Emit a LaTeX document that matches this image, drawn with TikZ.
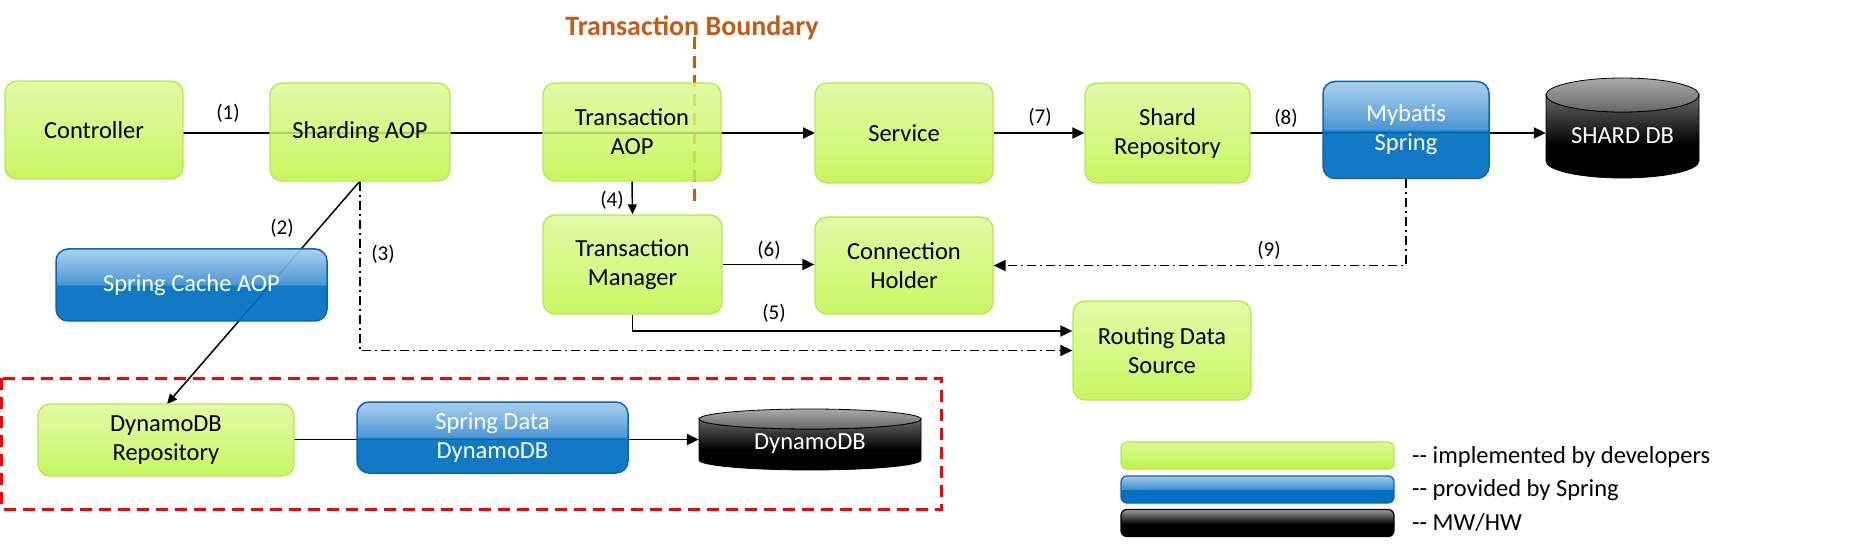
\documentclass[tikz,border=0pt]{standalone}
\usepackage{fontspec}
\setmainfont{Carlito}
\usetikzlibrary{arrows.meta,calc}
\definecolor{gB}{HTML}{BEF544}
\definecolor{gM}{HTML}{CBF76A}
\definecolor{gT}{HTML}{DCFA96}
\definecolor{gborder}{HTML}{B2EA50}
\definecolor{bD}{HTML}{0070C0}
\definecolor{bM}{HTML}{3F8FD2}
\definecolor{bL}{HTML}{A6CDEE}
\definecolor{bborder}{HTML}{0A66B4}
\definecolor{kG}{HTML}{9C9C9C}
\definecolor{kT}{HTML}{AAAAAA}
\definecolor{kM}{HTML}{666666}
\definecolor{orangeTB}{HTML}{C55A11}
\pgfdeclareverticalshading{greenglass}{100bp}{color(0bp)=(gB); color(25bp)=(gB); color(45bp)=(gM); color(75bp)=(gT); color(100bp)=(gT)}
\pgfdeclareverticalshading{blueglass}{100bp}{color(0bp)=(bD); color(25bp)=(bD); color(49.5bp)=(bD); color(50.5bp)=(bM); color(75bp)=(bL); color(100bp)=(bL)}
\pgfdeclareverticalshading{blackglass}{100bp}{color(0bp)=(black); color(25bp)=(black); color(48bp)=(black); color(75bp)=(kG); color(100bp)=(kG)}
\pgfdeclareverticalshading{cylbody}{100bp}{color(0bp)=(black); color(25bp)=(black); color(45bp)=(black); color(75bp)=(kM); color(100bp)=(kM)}
\pgfdeclareverticalshading{cyltop}{100bp}{color(0bp)=(kM); color(25bp)=(kM); color(75bp)=(kT); color(100bp)=(kT)}
\tikzset{
  x=1pt, y=-1pt,
  mainfont/.style={font=\fontsize{24.5}{29}\selectfont},
  gbox/.style={mainfont, rounded corners=12pt, draw=gborder, line width=1.3pt, shade, shading=greenglass, fill opacity=0.85, draw opacity=1, text opacity=1, align=center, inner sep=0pt, text=black},
  bbox/.style={mainfont, rounded corners=12pt, draw=bborder, line width=1.5pt, shade, shading=blueglass, fill opacity=0.93, text opacity=1, align=center, inner sep=0pt, text=white},
  lbox/.style={rounded corners=6pt, line width=1.3pt, inner sep=0pt, minimum width=273pt, minimum height=27pt},
  conn/.style={line width=1.8pt, black},
  arr/.style={-{Triangle[length=12pt,width=11pt]}},
  sarr/.style={-{Triangle[length=10pt,width=9pt]}},
  dashdot/.style={dash pattern=on 9pt off 4pt on 2pt off 4pt},
  lab/.style={font=\fontsize{21}{25}\selectfont, inner sep=0pt},
  legtext/.style={mainfont, anchor=west, inner sep=0pt},
  dbtext/.style={mainfont, text=white, inner sep=0pt},
}
\begin{document}
\begin{tikzpicture}
\useasboundingbox (0,0) rectangle (1856,553);
% ---- invisible anchor nodes for the two databases
\node[minimum width=153pt, minimum height=90pt, inner sep=0pt] (sharddb) at (1622.5,133) {};
\node[minimum width=222pt, minimum height=50pt, inner sep=0pt] (dyndb) at (810,439.5) {};
% ---- transaction boundary line (behind boxes)
\draw[orangeTB, line width=3pt, dash pattern=on 12pt off 7pt] (694,37) -- (694,203);
% ---- connectors that run behind the boxes
\coordinate (ctrlE) at (183,133);
\draw[conn, arr] (ctrlE) -- (815,133) coordinate (svcW);
\draw[conn, arr] (1250,133) coordinate (shrE) -- (sharddb.west);
\draw[conn, arr] (294,439.5) coordinate (dynE) -- (dyndb.west);
\draw[conn, line width=1.5pt, sarr] (360,181) coordinate (shS) -- (167,404) coordinate (dynN);
% ---- boxes
\node[gbox, minimum width=178pt, minimum height=98pt] (ctrl) at (94,130) {Controller};
\node[gbox, minimum width=180pt, minimum height=98pt] (shard) at (360,132) {Sharding AOP};
\node[gbox, minimum width=178pt, minimum height=98pt] (taop) at (632,132) {Transaction\\AOP};
\node[gbox, minimum width=178pt, minimum height=100pt] (svc) at (904,133) {Service};
\node[gbox, minimum width=165pt, minimum height=100pt] (shrepo) at (1167.5,133) {Shard\\Repository};
\node[bbox, minimum width=166pt, minimum height=97pt] (mybatis) at (1406,130) {Mybatis\\Spring};
\node[gbox, minimum width=179pt, minimum height=99pt] (tmgr) at (632.5,264.5) {Transaction\\Manager};
\node[gbox, minimum width=178pt, minimum height=97pt] (ch) at (904,265.5) {Connection\\Holder};
\node[bbox, minimum width=271pt, minimum height=72pt] (scache) at (191.5,285) {Spring Cache AOP};
\node[gbox, minimum width=178pt, minimum height=99pt] (routing) at (1162,350.5) {Routing Data\\Source};
\node[gbox, minimum width=256pt, minimum height=72pt] (dynrepo) at (166,440) {DynamoDB\\Repository};
\node[bbox, minimum width=271pt, minimum height=71pt] (sdd) at (492.5,437.5) {Spring Data\\DynamoDB};
% ---- SHARD DB cylinder
\shade[shading=cylbody, draw=black, line width=0.8pt] (1546,95) -- (1546,161) arc[start angle=180, end angle=0, x radius=76.5, y radius=17] -- (1699,95) arc[start angle=0, end angle=180, x radius=76.5, y radius=17] -- cycle;
\shade[shading=cyltop, draw=black, line width=0.8pt] (1622.5,95) ellipse[x radius=76.5, y radius=17];
\node[dbtext] at (1622.5,136) {SHARD DB};
% ---- DynamoDB cylinder
\shade[shading=cylbody, draw=black, line width=0.8pt] (699,419) -- (699,460) arc[start angle=180, end angle=0, x radius=111, y radius=10] -- (921,419) arc[start angle=0, end angle=180, x radius=111, y radius=10] -- cycle;
\shade[shading=cyltop, draw=black, line width=0.8pt] (810,419) ellipse[x radius=111, y radius=10];
\node[dbtext] at (810,444) {DynamoDB};
% ---- other connectors
\draw[conn, arr] (svc.east) -- (shrepo.west);
\draw[conn, line width=1.5pt, sarr] (taop.south) -- (tmgr.north);
\draw[conn, arr] (tmgr.east) -- (tmgr.east -| ch.west);
\draw[conn, arr] (tmgr.south) |- ([yshift=19.5pt]routing.west);
\draw[conn, line width=1.5pt, dashdot, arr] (shard.south) |- (routing.west);
\draw[conn, line width=1.5pt, dashdot, arr] (mybatis.south) |- (ch.east);
% ---- labels
\node[lab] (l1) at (228,113) {(1)};
\node[lab] (l2) at (282,228) {(2)};
\node[lab] (l3) at (383,254) {(3)};
\node[lab] (l4) at (612,200) {(4)};
\node[lab] (l5) at (774,313) {(5)};
\node[lab] (l6) at (769,250) {(6)};
\node[lab] (l7) at (1040,117) {(7)};
\node[lab] (l8) at (1286,118) {(8)};
\node[lab] (l9) at (1269,250) {(9)};
% ---- transaction boundary title
\node[font=\fontsize{28}{31}\selectfont\bfseries, text=orangeTB, inner sep=0pt] (tbtitle) at (692,28) {Transaction Boundary};
% ---- red dashed group
\draw[red, line width=3pt, dash pattern=on 12pt off 7pt] (1.5,378) rectangle (941,509);
% ---- legend
\node[lbox, draw=gborder, shade, shading=greenglass] (leg1) at (1257.5,455.5) {};
\node[lbox, draw=bborder, shade, shading=blueglass] (leg2) at (1257.5,489.5) {};
\node[lbox, draw=black, shade, shading=blackglass] (leg3) at (1257.5,523) {};
\node[legtext] (legt1) at (1412,457) {-{}- implemented by developers};
\node[legtext] (legt2) at (1412,490) {-{}- provided by Spring};
\node[legtext] (legt3) at (1412,523) {-{}- MW/HW};
\end{tikzpicture}
\end{document}
